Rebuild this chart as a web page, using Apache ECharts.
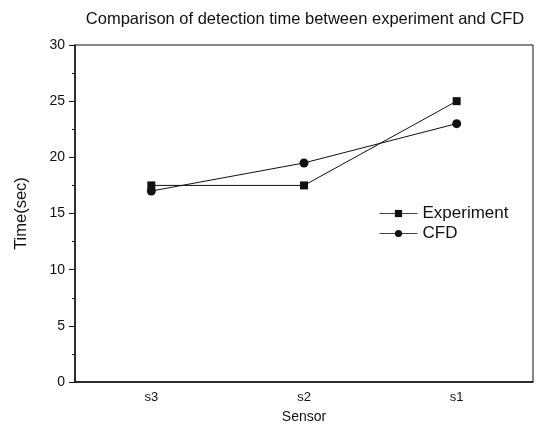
<!DOCTYPE html>
<html>
<head>
<meta charset="utf-8">
<script src="https://cdn.jsdelivr.net/npm/echarts@6/dist/echarts.min.js"></script>
<style>html,body{margin:0;padding:0;background:#fff;}#c{width:536px;height:429px;}</style>
</head>
<body>
<div id="c"></div>
<script>
const categories = ['s3', 's2', 's1'];
const experiment = [17.5, 17.5, 25];
const cfd = [17, 19.5, 23];
const yTicks = [0, 5, 10, 15, 20, 25, 30];

const chart = echarts.init(document.getElementById('c'), null, {renderer: 'canvas'});
const font = 'Liberation Sans, Arial, sans-serif';
chart.setOption({
  animation: false,
  backgroundColor: '#fff',
  title: {
    text: 'Comparison of detection time between experiment and CFD',
    left: 300, top: 6, textAlign: 'center',
    textStyle: {fontFamily: font, fontSize: 16.5, fontWeight: 'normal', color: '#111'}
  },
  grid: {left: 75, right: 3, top: 45, bottom: 47, show: true, borderColor: '#111', borderWidth: 1, containLabel: false},
  legend: {
    orient: 'vertical', left: 374, top: 200, itemGap: 3, itemWidth: 38, itemHeight: 9,
    textStyle: {fontFamily: font, fontSize: 17, color: '#111'},
    lineStyle: {width: 1, color: '#444'},
    data: ['Experiment', 'CFD']
  },
  xAxis: [{
    type: 'category', data: categories, boundaryGap: true,
    name: 'Sensor', nameLocation: 'middle', nameGap: 28,
    nameTextStyle: {fontFamily: font, fontSize: 14, color: '#111'},
    axisLine: {lineStyle: {color: '#111', width: 1.5}},
    axisTick: {alignWithLabel: true, length: 6, lineStyle: {color: '#111'}},
    axisLabel: {fontFamily: font, fontSize: 13, color: '#111', margin: 9},
    splitLine: {show: false}
  }, {
    type: 'category', data: categories, boundaryGap: true, position: 'bottom',
    axisLine: {show: false},
    axisTick: {length: 3, lineStyle: {color: '#111'}},
    axisLabel: {show: false},
    splitLine: {show: false}
  }],
  yAxis: {
    type: 'value', min: yTicks[0], max: yTicks[yTicks.length - 1], interval: 5,
    name: 'Time(sec)', nameLocation: 'middle', nameGap: 45,
    nameTextStyle: {fontFamily: font, fontSize: 16.5, color: '#111'},
    axisLine: {show: true, lineStyle: {color: '#111', width: 1.5}},
    axisTick: {show: true, length: 6, lineStyle: {color: '#111'}},
    minorTick: {show: true, splitNumber: 2, length: 3, lineStyle: {color: '#111'}},
    axisLabel: {fontFamily: font, fontSize: 14, color: '#111', margin: 10},
    splitLine: {show: false}
  },
  series: [{
    name: 'Experiment', type: 'line', data: experiment, xAxisIndex: 0,
    symbol: 'rect', symbolSize: 8,
    lineStyle: {color: '#111', width: 1},
    itemStyle: {color: '#111'}
  }, {
    name: 'CFD', type: 'line', data: cfd, xAxisIndex: 0,
    symbol: 'circle', symbolSize: 9,
    lineStyle: {color: '#111', width: 1},
    itemStyle: {color: '#111'}
  }]
});
</script>
</body>
</html>
